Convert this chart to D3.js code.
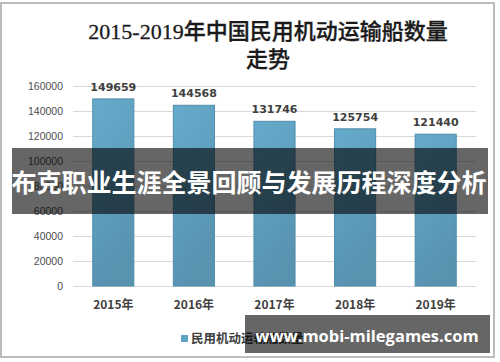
<!DOCTYPE html>
<html>
<head>
<meta charset="utf-8">
<script src="https://cdn.jsdelivr.net/npm/d3@7"></script>
<style>
  body { margin: 0; background: #fff; }
  svg { display: block; }
</style>
</head>
<body>
<svg id="chart"></svg>
<script>
var years = ["2015年", "2016年", "2017年", "2018年", "2019年"];
var ships = [149659, 144568, 131746, 125754, 121440];
var yTicks = [0, 20000, 40000, 60000, 80000, 100000, 120000, 140000, 160000];
var titleLines = ["2015-2019年中国民用机动运输船数量", "走势"];
var legendLabel = "民用机动运输船数量";
var bannerText = "布克职业生涯全景回顾与发展历程深度分析";
var siteText = "www.mobi-milegames.com";

var width = 500, height = 362;
var svg = d3.select("#chart")
  .attr("width", width)
  .attr("height", height);

var grad = svg.append("defs")
  .append("linearGradient")
  .attr("id", "barGrad")
  .attr("x1", "0").attr("y1", "0")
  .attr("x2", "0.3").attr("y2", "1");
grad.append("stop").attr("offset", "0%").attr("stop-color", "#66abcc");
grad.append("stop").attr("offset", "100%").attr("stop-color", "#5893b0");

// outer frame
svg.append("rect")
  .attr("x", 1).attr("y", 3)
  .attr("width", 493).attr("height", 354)
  .attr("fill", "#fff")
  .attr("stroke", "#a6a6a6")
  .attr("stroke-width", 1.5);

// title
svg.selectAll(".title")
  .data(titleLines)
  .enter()
  .append("text")
  .attr("class", "title")
  .attr("x", 268)
  .attr("y", function(d, i) { return 39 + i * 28; })
  .attr("text-anchor", "middle")
  .attr("font-family", "'Liberation Serif', 'Noto Sans CJK SC', serif")
  .attr("font-weight", 500)
  .attr("font-size", 22)
  .attr("fill", "#1a1a1a")
  .attr("stroke", "#1a1a1a")
  .attr("stroke-width", 0.3)
  .text(function(d) { return d; });

var x = d3.scaleBand()
  .domain(years)
  .range([73, 476])
  .paddingInner(0.49)
  .paddingOuter(0.245);
var y = d3.scaleLinear()
  .domain([0, 160000])
  .range([286, 86]);

// gridlines
svg.append("g")
  .selectAll("line")
  .data(yTicks)
  .enter()
  .append("line")
  .attr("x1", 73).attr("x2", 476)
  .attr("y1", function(d) { return y(d) + 0.5; })
  .attr("y2", function(d) { return y(d) + 0.5; })
  .attr("stroke", "#d9d9d9")
  .attr("stroke-width", 1);

// y axis labels
var yAxis = svg.append("g")
  .attr("transform", "translate(66,0)")
  .call(d3.axisLeft(y).tickValues(yTicks).tickSize(0).tickPadding(3).tickFormat(d3.format("d")));
yAxis.select(".domain").remove();
yAxis.selectAll("text")
  .attr("font-family", "'Liberation Sans', Arial, sans-serif")
  .attr("font-size", 10.5)
  .attr("fill", "#4d4d4d");

// bars
svg.append("g")
  .selectAll("rect")
  .data(ships)
  .enter()
  .append("rect")
  .attr("x", function(d, i) { return x(years[i]); })
  .attr("y", function(d) { return y(d); })
  .attr("width", x.bandwidth())
  .attr("height", function(d) { return y(0) - y(d); })
  .attr("fill", "url(#barGrad)")
  .attr("stroke", "#4e8dab")
  .attr("stroke-width", 1);

// value labels
svg.append("g")
  .selectAll("text")
  .data(ships)
  .enter()
  .append("text")
  .attr("x", function(d, i) { return x(years[i]) + x.bandwidth() / 2; })
  .attr("y", function(d) { return y(d) - 8; })
  .attr("text-anchor", "middle")
  .attr("font-family", "'DejaVu Sans', sans-serif")
  .attr("font-weight", "bold")
  .attr("font-size", 11)
  .attr("fill", "#404040")
  .text(function(d) { return d; });

// x axis labels
var xAxis = svg.append("g")
  .attr("transform", "translate(0," + y(0) + ")")
  .call(d3.axisBottom(x).tickSize(0).tickPadding(14));
xAxis.select(".domain").remove();
xAxis.selectAll("text")
  .attr("font-family", "'Noto Sans CJK SC', sans-serif")
  .attr("font-weight", "bold")
  .attr("font-size", 12)
  .attr("fill", "#404040");

// legend
svg.append("rect")
  .attr("x", 181).attr("y", 335)
  .attr("width", 7).attr("height", 7)
  .attr("fill", "#5fa3c5");
svg.append("text")
  .attr("x", 191).attr("y", 343)
  .attr("font-family", "'Noto Sans CJK SC', sans-serif")
  .attr("font-weight", "bold")
  .attr("font-size", 12.5)
  .attr("fill", "#404040")
  .text(legendLabel);

// overlay banners
svg.append("rect")
  .attr("x", 12).attr("y", 148)
  .attr("width", 476).attr("height", 66)
  .attr("fill", "rgba(0,0,0,0.6)");
svg.append("text")
  .attr("x", 249).attr("y", 192)
  .attr("text-anchor", "middle")
  .attr("font-family", "'Noto Sans CJK SC', sans-serif")
  .attr("font-weight", "bold")
  .attr("font-size", 25)
  .attr("fill", "#fff")
  .text(bannerText);

svg.append("rect")
  .attr("x", 245).attr("y", 315)
  .attr("width", 245).attr("height", 38)
  .attr("fill", "rgba(0,0,0,0.6)");
svg.append("text")
  .attr("x", 367).attr("y", 342)
  .attr("text-anchor", "middle")
  .attr("font-family", "'Open Sans', 'Noto Sans', sans-serif")
  .attr("font-weight", "bold")
  .attr("font-size", 16.5)
  .attr("fill", "#fff")
  .text(siteText);
</script>
</body>
</html>
